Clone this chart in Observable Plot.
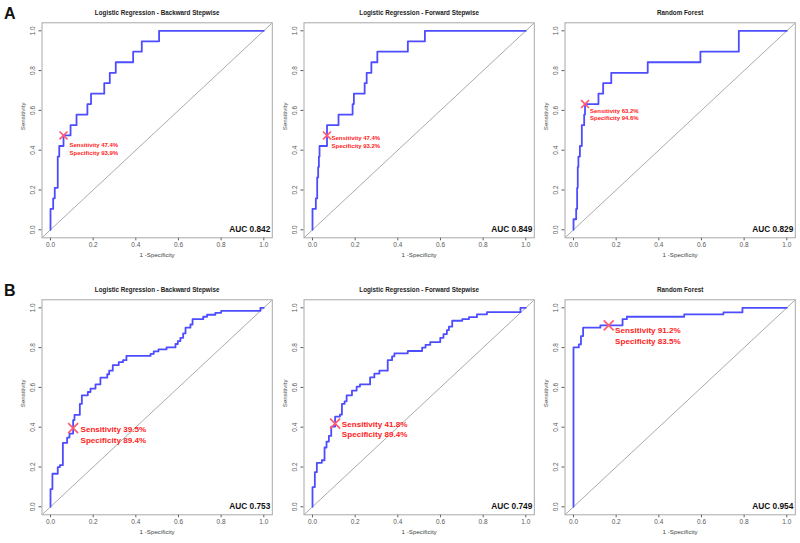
<!DOCTYPE html>
<html><head><meta charset="utf-8">
<script src="https://cdn.jsdelivr.net/npm/d3@7"></script>
<script src="https://cdn.jsdelivr.net/npm/@observablehq/plot@0.6"></script>
<style>
html,body{margin:0;padding:0;background:#fff;}
#root{position:relative;width:800px;height:543px;overflow:hidden;font-family:"Liberation Sans",Arial,sans-serif;}
.panel{position:absolute;}
.panel svg{display:block;max-width:none;}
.tag{position:absolute;font-size:16px;font-weight:bold;line-height:1;color:#111;}
</style></head><body><div id="root"></div>
<script>
// ---- data ----
const rowTags = ["A", "B"];
const titles = [
  "Logistic Regression - Backward Stepwise",
  "Logistic Regression - Forward Stepwise",
  "Random Forest",
  "Logistic Regression - Backward Stepwise",
  "Logistic Regression - Forward Stepwise",
  "Random Forest"
];
const aucValues = [0.842, 0.849, 0.829, 0.753, 0.749, 0.954];
const thrSens = [47.4, 47.4, 63.2, 39.5, 41.8, 91.2];
const thrSpec = [93.9, 93.2, 94.6, 89.4, 89.4, 83.5];
const tickValues = [0, 0.2, 0.4, 0.6, 0.8, 1.0];
const xLabel = "1 -Specificity";
const yLabel = "Sensitivity";

// ROC step points (1-specificity, sensitivity)
const fprBackA = [0, 0, 0.0125, 0.02, 0.034, 0.041, 0.061, 0.094, 0.122, 0.173, 0.19, 0.252, 0.278, 0.306, 0.3875, 0.428, 0.509, 1];
const tprBackA = [0, 0.105, 0.158, 0.211, 0.368, 0.421, 0.474, 0.526, 0.579, 0.632, 0.684, 0.737, 0.789, 0.842, 0.895, 0.947, 1, 1];
const fprFwdA = [0, 0, 0.0157, 0.022, 0.0266, 0.03, 0.033, 0.068, 0.122, 0.188, 0.194, 0.2445, 0.254, 0.276, 0.304, 0.447, 0.527, 1];
const tprFwdA = [0, 0.105, 0.158, 0.263, 0.316, 0.368, 0.421, 0.526, 0.579, 0.632, 0.684, 0.737, 0.789, 0.842, 0.895, 0.947, 1, 1];
const fprRfA = [0, 0, 0.0125, 0.017, 0.02, 0.023, 0.03, 0.039, 0.05, 0.054, 0.117, 0.139, 0.177, 0.348, 0.595, 0.775, 1];
const tprRfA = [0, 0.053, 0.105, 0.211, 0.316, 0.368, 0.421, 0.526, 0.579, 0.632, 0.684, 0.737, 0.789, 0.842, 0.895, 1, 1];
const fprBackB = [0, 0, 0.009, 0.034, 0.044, 0.058, 0.078, 0.089, 0.106, 0.1125, 0.1375, 0.147, 0.175, 0.1875, 0.211, 0.234, 0.266, 0.275, 0.292, 0.32, 0.34, 0.356, 0.469, 0.484, 0.506, 0.544, 0.586, 0.597, 0.609, 0.622, 0.633, 0.656, 0.666, 0.716, 0.734, 0.773, 0.80, 0.984, 1];
const tprBackB = [0, 0.089, 0.166, 0.199, 0.209, 0.321, 0.348, 0.368, 0.436, 0.462, 0.517, 0.560, 0.577, 0.594, 0.615, 0.649, 0.666, 0.684, 0.712, 0.727, 0.737, 0.758, 0.768, 0.781, 0.791, 0.801, 0.818, 0.833, 0.849, 0.871, 0.90, 0.916, 0.943, 0.955, 0.965, 0.975, 0.985, 1, 1];
const fprFwdB = [0, 0, 0.011, 0.0204, 0.0439, 0.0564, 0.0658, 0.0768, 0.0878, 0.106, 0.1285, 0.138, 0.1505, 0.16, 0.185, 0.207, 0.2226, 0.27, 0.29, 0.3135, 0.3527, 0.373, 0.384, 0.4467, 0.514, 0.53, 0.552, 0.599, 0.614, 0.63, 0.6395, 0.655, 0.702, 0.7335, 0.771, 0.818, 0.975, 1];
const tprFwdB = [0, 0.099, 0.174, 0.221, 0.234, 0.298, 0.328, 0.356, 0.403, 0.453, 0.463, 0.517, 0.53, 0.56, 0.584, 0.604, 0.615, 0.65, 0.669, 0.684, 0.737, 0.756, 0.771, 0.783, 0.80, 0.814, 0.828, 0.849, 0.868, 0.888, 0.905, 0.935, 0.943, 0.953, 0.967, 0.978, 1, 1];
const fprRfB = [0, 0, 0.025, 0.035, 0.045, 0.126, 0.23, 0.25, 0.519, 0.703, 0.792, 1];
const tprRfB = [0, 0.801, 0.816, 0.858, 0.90, 0.912, 0.943, 0.955, 0.967, 0.977, 1, 1];

const curves = [
  [fprBackA, tprBackA], [fprFwdA, tprFwdA], [fprRfA, tprRfA],
  [fprBackB, tprBackB], [fprFwdB, tprFwdB], [fprRfB, tprRfB]
];

// ---- layout (pixels) ----
const colLeft = [0, 261.7, 522.7];
const rowTop = [0, 277.4];
const labelOffset = [[6, 13.4], [4.5, 6], [5, 10], [7.4, 5.9], [6.7, 5.2], [6.4, 9.8]];
const labelSize = [6, 6, 6, 8.1, 8.1, 8.1];
const markerR = [3.7, 3.7, 3.7, 4.6, 4.6, 4.6];

const FONT = '"Liberation Sans", Arial, sans-serif';
const fmt = d3.format(".1f");
const root = document.getElementById("root");

rowTags.forEach((t, r) => {
  const d = document.createElement("div");
  d.className = "tag";
  d.textContent = t;
  d.style.left = "4px";
  d.style.top = (r === 0 ? 6 : 283) + "px";
  root.appendChild(d);
});

const diag = [-1, 2];

curves.forEach(([fpr, tpr], i) => {
  const row = Math.floor(i / 3), col = i % 3;
  const pts = fpr.map((x, k) => ({x, y: tpr[k]}));
  const thr = [{x: 1 - thrSpec[i] / 100, y: thrSens[i] / 100,
    label: `Sensitivity ${thrSens[i].toFixed(1)}%\nSpecificity ${thrSpec[i].toFixed(1)}%`}];
  const svg = Plot.plot({
    width: 276, height: 262,
    marginLeft: 41.5, marginRight: 4.2, marginTop: 22.3, marginBottom: 24.7,
    x: {domain: [0, 1], insetLeft: 8.5, insetRight: 8.5},
    y: {domain: [0, 1], insetTop: 8, insetBottom: 8},
    style: {background: "transparent", fontFamily: FONT, overflow: "visible"},
    marks: [
      Plot.axisX(tickValues, {tickSize: 3, tickPadding: 1.5, fontSize: 6.5, color: "#5a5a5a", tickFormat: fmt, label: null}),
      Plot.axisY(tickValues, {tickSize: 3, tickPadding: 4, tickRotate: -90, fontSize: 6.5, color: "#5a5a5a", tickFormat: fmt, label: null}),
      Plot.line(diag, {x: d => d, y: d => d, stroke: "#a0a0a0", strokeWidth: 0.9, clip: "frame"}),
      Plot.frame({stroke: "#a8a8a8", strokeWidth: 1}),
      Plot.line(pts, {x: "x", y: "y", curve: "step-after", stroke: "#4d4dff", strokeWidth: 1.8}),
      Plot.dot(thr, {x: "x", y: "y", symbol: "times", r: markerR[i], stroke: "#ff5a72", strokeWidth: 1.7}),
      Plot.text(thr, {x: "x", y: "y", text: "label", textAnchor: "start", lineAnchor: "middle",
        dx: labelOffset[i][0], dy: labelOffset[i][1], fontSize: labelSize[i], fontWeight: "bold",
        fill: "#ff2222", lineHeight: 1.28}),
      Plot.text([`AUC ${aucValues[i].toFixed(3)}`], {text: d => d, frameAnchor: "bottom-right",
        textAnchor: "end", lineAnchor: "middle", dx: -2, dy: -8, fontSize: 8.3, fontWeight: "bold", fill: "#111"}),
      Plot.text([titles[i]], {text: d => d, frameAnchor: "top", lineAnchor: "middle", dy: -10,
        fontSize: 6.3, fontWeight: "bold", fill: "#222"}),
      Plot.text([xLabel], {text: d => d, frameAnchor: "bottom", lineAnchor: "middle", dy: 17.7,
        fontSize: 6.2, fill: "#444"}),
      Plot.text([yLabel], {text: d => d, frameAnchor: "left", rotate: -90, lineAnchor: "middle", dx: -18.8,
        fontSize: 6.2, fill: "#444"})
    ]
  });
  const div = document.createElement("div");
  div.className = "panel";
  div.style.left = colLeft[col] + "px";
  div.style.top = rowTop[row] + "px";
  div.appendChild(svg);
  root.appendChild(div);
});
</script></body></html>
